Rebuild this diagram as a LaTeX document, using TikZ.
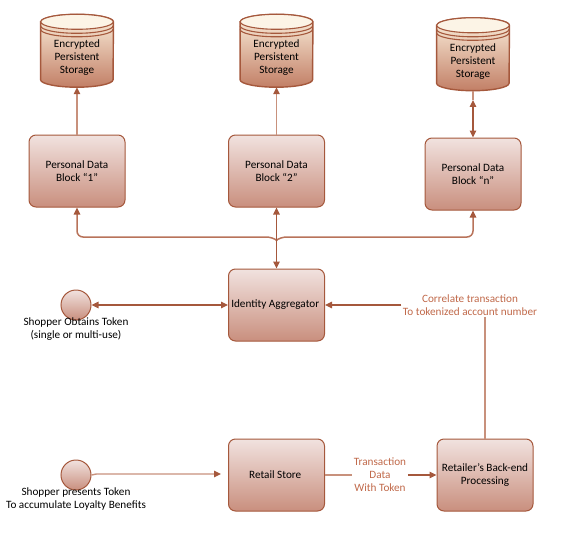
\documentclass[tikz,border=0pt]{standalone}
\usepackage{fontspec}
\setmainfont{Carlito}
\usetikzlibrary{positioning, calc, backgrounds, arrows.meta}
\definecolor{myrust}{HTML}{A5583C}
\definecolor{mymidrust}{HTML}{B8735A}
\definecolor{mylightrust}{HTML}{C8917C}
\definecolor{myboxtop}{HTML}{F1E2DF}
\definecolor{myboxbottom}{HTML}{C98F7E}
\definecolor{mydrumtop}{HTML}{FBEFDC}
\definecolor{mydrumbottom}{HTML}{C27F66}
\definecolor{mylabel}{HTML}{C0694A}
\tikzset{
	blocknode/.style={
			rectangle,
			rounded corners=7pt,
			draw=myrust,
			line width=1pt,
			top color=myboxtop,
			bottom color=myboxbottom,
			minimum width=96pt,
			minimum height=72pt,
			align=center,
			inner sep=0pt,
			font=\fontsize{11.2}{13}\selectfont
		},
	drumnode/.style={
			rectangle,
			minimum width=72.5pt,
			minimum height=73pt,
			align=center,
			inner sep=0pt,
			font=\fontsize{11.2}{13}\selectfont
		},
	drumbody/.style={
			draw=myrust,
			line width=1.4pt,
			top color=mydrumtop,
			bottom color=mydrumbottom
		},
	drumring/.style={
			draw=myrust,
			line width=1.1pt
		},
	tokennode/.style={
			circle,
			draw=myrust,
			line width=1pt,
			top color=myboxtop,
			bottom color=myboxbottom,
			minimum size=30pt,
			inner sep=0pt
		},
	textnode/.style={
			align=center,
			inner sep=1.5pt,
			font=\fontsize{11.2}{13}\selectfont
		},
	flowlabel/.style={
			textnode,
			text=mylabel
		},
	flowline/.style={
			draw=myrust,
			line width=1.1pt,
			-{Triangle[length=7pt,width=6.5pt]}
		},
	busline/.style={
			draw=mymidrust,
			line width=1.5pt,
			rounded corners=6pt,
			-{Triangle[length=7pt,width=6.5pt,color=myrust]}
		},
	paleline/.style={
			draw=mylightrust,
			line width=1.4pt
		},
	paletip/.style={
			paleline,
			-{Triangle[length=7pt,width=6.5pt,color=myrust]}
		},
	bothtips/.style={
			flowline,
			{Triangle[length=7pt,width=6.5pt]}-{Triangle[length=7pt,width=6.5pt]}
		}
}
\begin{document}
\begin{tikzpicture}[x=1pt, y=-1pt]
    \useasboundingbox (0,0) rectangle (564,532);

    \node[drumnode] (store1) at (77,50.5)  { \strut \\ Encrypted \\ Persistent \\ Storage };
    \node[drumnode] (store2) at (276.5,50.5)  { \strut \\ Encrypted \\ Persistent \\ Storage };
    \node[drumnode] (storen) at (473,54)  { \strut \\ Encrypted \\ Persistent \\ Storage };

    \begin{scope}[on background layer]
    \foreach \store in {store1, store2, storen} {
        \path[drumbody] ($(\store.north west)+(0,8)$) -- ($(\store.south west)+(0,-7.5)$)
            arc (180:360:36.25pt and 7.5pt) -- ($(\store.north east)+(0,8)$)
            arc (0:180:36.25pt and 7.5pt) -- cycle;
        \draw[drumring, fill=mydrumtop!70] ($(\store.north)+(0,8)$) ellipse (36.25pt and 7.5pt);
        \draw[drumring] ($(\store.north west)+(0,12)$) arc (180:360:36.25pt and 7.5pt);
        \draw[drumring] ($(\store.north west)+(0,15.5)$) arc (180:360:36.25pt and 7.5pt);
    }
    \end{scope}

    \node[blocknode] (block1) at (77,171)  { Personal Data \\ Block “1” };
    \node[blocknode] (block2) at (276.5,171)  { Personal Data \\ Block “2” };
    \node[blocknode] (blockn) at (473,174)  { Personal Data \\ Block “n” };
    \node[blocknode] (aggregator) at (276.5,305)  { Identity Aggregator };
    \node[blocknode] (retail) at (276.5,475)  { Retail Store };
    \node[blocknode] (backend) at (485,475)  { Retailer’s Back-end \\ Processing };

    \node[tokennode] (token1) at (76,305)  {};
    \node[tokennode] (token2) at (76,475)  {};
    \node[textnode] (obtains) at (76,329)  { Shopper Obtains Token \\ (single or multi-use) };
    \node[textnode] (presents) at (76,499)  { Shopper presents Token \\ To accumulate Loyalty Benefits };

    \node[flowlabel] (correlate) at (470,305)  { Correlate transaction \\ To tokenized account number };
    \node[flowlabel] (transaction) at (380,475)  { Transaction \\ Data \\ With Token };

    \coordinate (hub) at (276.5,240);
    \coordinate (retailin) at (221,474);
    \coordinate (storenin) at (473,100);

    \draw[paletip] (block1) -- (store1);
    \draw[paletip] (block2) -- (store2);
    \draw[paleline] (storen) -- (storenin);
    \draw[bothtips] (blockn) -- (storenin);

    \draw[busline] (hub) -- ++(-4,-3) -| (block1);
    \draw[busline] (hub) -- ++(4,-3) -| (blockn);
    \draw[bothtips] (block2) -- (aggregator);

    \draw[bothtips] (token1) -- (aggregator);
    \draw[flowline] (correlate) -- (aggregator);
    \draw[paleline] (backend.north) -- (backend.north |- correlate.south);

    \draw[paletip] (token2.east) -- ++(5,-1) -- (retailin);
    \draw[paleline] (retail) -- (transaction);
    \draw[flowline] (transaction) -- (backend);
\end{tikzpicture}
\end{document}
